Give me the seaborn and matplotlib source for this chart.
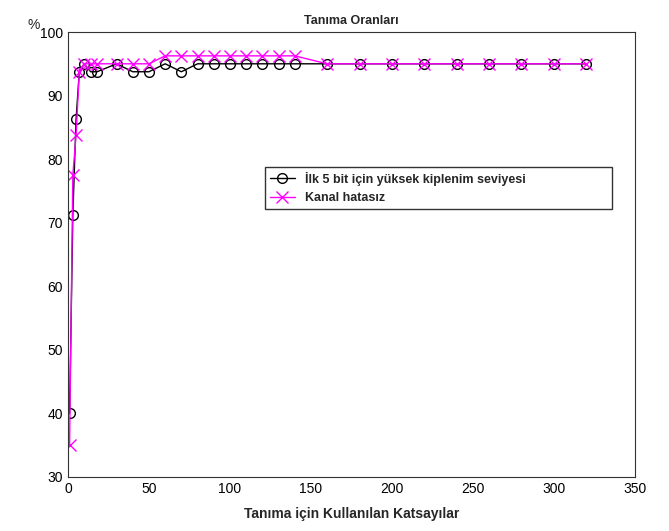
import matplotlib
matplotlib.use("Agg")
import matplotlib.pyplot as plt
import pandas as pd
import seaborn as sns

# coefficient counts used for recognition
katsayi = [1, 3, 5, 7, 10, 14, 18, 30, 40, 50, 60, 70, 80, 90, 100, 110, 120, 130, 140,
           160, 180, 200, 220, 240, 260, 280, 300, 320]

# recognition rates (%)
ilk5_bit = [40, 71.25, 86.25, 93.75, 95, 93.75, 93.75, 95, 93.75, 93.75, 95, 93.75,
            95, 95, 95, 95, 95, 95, 95, 95, 95, 95, 95, 95, 95, 95, 95, 95]
kanal_hatasiz = [35, 77.5, 83.75, 93.75, 95, 95, 95, 95, 95, 95, 96.25, 96.25, 96.25,
                 96.25, 96.25, 96.25, 96.25, 96.25, 96.25, 95, 95, 95, 95, 95, 95, 95, 95, 95]

seri_adlari = ["İlk 5 bit için yüksek kiplenim seviyesi", "Kanal hatasız"]
x_ticks = list(range(0, 351, 50))
y_ticks = list(range(30, 101, 10))

df1 = pd.DataFrame({"x": katsayi, "y": ilk5_bit})
df2 = pd.DataFrame({"x": katsayi, "y": kanal_hatasiz})

sns.set_style("white")
plt.rcParams["font.family"] = ["Liberation Sans", "DejaVu Sans"]

fig = plt.figure(figsize=(6.69, 5.31), dpi=100)
ax = fig.add_axes([0.1016, 0.1017, 0.8474, 0.838])

sns.lineplot(data=df1, x="x", y="y", ax=ax, color="black", lw=1, marker="o",
             markersize=7, markerfacecolor="none", markeredgecolor="black",
             markeredgewidth=1, label=seri_adlari[0], sort=False)
sns.lineplot(data=df2, x="x", y="y", ax=ax, color="#ff00ff", lw=1, marker="x",
             markersize=9, markeredgecolor="#ff00ff", markeredgewidth=1,
             label=seri_adlari[1], sort=False)

ax.set_xlim(0, 350)
ax.set_ylim(30, 100)
ax.set_xticks(x_ticks)
ax.set_yticks(y_ticks)
ax.tick_params(direction="in", length=5, width=0.8, labelsize=10, colors="black",
               top=False, right=False)
for s in ax.spines.values():
    s.set_visible(True)
    s.set_color("#333333")
    s.set_linewidth(0.8)

ax.set_title("Tanıma Oranları", fontsize=9, fontweight="bold", pad=6)
ax.set_xlabel("Tanıma için Kullanılan Katsayılar", fontsize=10, fontweight="bold", labelpad=8)
ax.set_ylabel("")
# the "%" sits just left of the 100 tick label
ax.text(-0.05, 1.0, "%", transform=ax.transAxes, fontsize=10, ha="right", va="bottom")

leg = ax.legend(loc="upper left", bbox_to_anchor=(0.347, 0.562, 0.612, 0.135),
                mode="expand", frameon=True, fancybox=False, edgecolor="black",
                borderaxespad=0, handlelength=2.0, prop={"weight": "bold", "size": 9})
leg.get_frame().set_linewidth(1)

fig.savefig("out.png", dpi=100)
